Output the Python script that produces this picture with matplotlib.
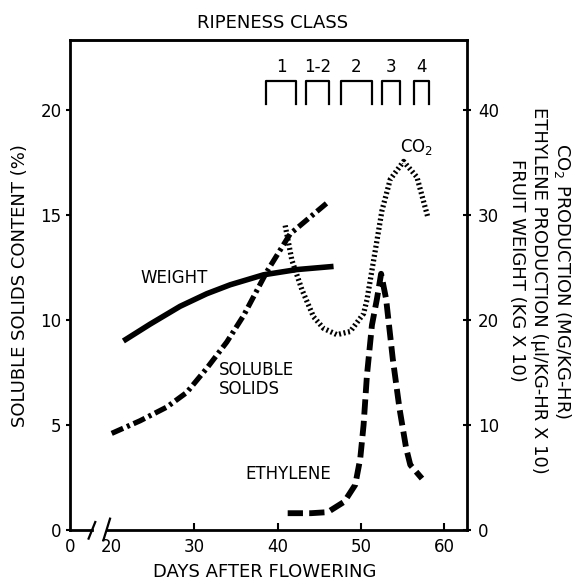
import numpy as np
import matplotlib
matplotlib.use("Agg")
import matplotlib.pyplot as plt

plt.rcParams['font.family'] = ['DejaVu Sans']
plt.rcParams['font.size'] = 12
plt.rcParams['lines.scale_dashes'] = False
plt.rcParams['mathtext.fontset'] = 'dejavusans'

# days after flowering / values
weight_days = [21.5, 24.7, 28.3, 31.5, 34.3, 38.3, 42.3, 46.7]
weight_vals = [18.0, 19.6, 21.3, 22.5, 23.35, 24.3, 24.8, 25.1]   # kg x 10 (right axis)

solids_days = [20.1, 23.5, 26.7, 29.1, 31.5, 33.9, 35.9, 38.7, 41.5, 43.9, 46.0]
solids_vals = [4.6, 5.2, 5.85, 6.55, 7.7, 8.95, 10.2, 12.3, 14.1, 14.9, 15.6]  # % (left axis)

co2_days = [40.9, 41.7, 42.9, 44.3, 45.5, 47.1, 48.7, 50.3, 50.7, 51.7, 52.5, 53.5, 55.1, 56.7, 58.0]
co2_vals = [29.0, 25.7, 22.9, 20.3, 19.2, 18.6, 18.9, 20.6, 21.9, 26.6, 30.4, 33.4, 35.1, 33.6, 29.8]

eth_days = [41.2, 44.0, 46.0, 48.0, 49.3, 49.9, 50.3, 50.7, 51.3, 51.9, 52.4,
            53.0, 53.8, 54.6, 55.4, 55.9, 57.3]
eth_vals = [1.6, 1.6, 1.7, 2.7, 4.3, 6.8, 10.0, 14.7, 19.5, 22.0, 24.4,
            22.0, 16.3, 11.6, 7.8, 6.2, 4.9]

ripe_labels = ["1", "1-2", "2", "3", "4"]
ripe_start = [38.6, 43.4, 47.6, 52.5, 56.4]
ripe_end = [42.2, 46.1, 51.3, 54.7, 58.2]

x_ticks = [15.1, 20, 30, 40, 50, 60]
x_ticklabels = ["0", "20", "30", "40", "50", "60"]
left_ticks = [0, 5, 10, 15, 20]
right_ticks = [0, 10, 20, 30, 40]

fig = plt.figure(figsize=(5.74, 5.84), dpi=100, facecolor="w")
ax = fig.add_axes([70/574, 1-530/584, 397/574, 490/584])
ax2 = ax.twinx()

xmin, xmax = 15.1, 62.7
ymax = 23.33
ax.set_xlim(xmin, xmax)
ax.set_ylim(0, ymax)
ax2.set_ylim(0, 2*ymax)

k = 'k'
ax.plot(solids_days, solids_vals, color=k, lw=3.8, dashes=(9, 3, 2.2, 3),
        solid_capstyle='butt', dash_capstyle='butt')
ax2.plot(weight_days, weight_vals, color=k, lw=4.0, solid_capstyle='butt')
ax2.plot(co2_days, co2_vals, color=k, lw=3.8, dashes=(1.4, 1.9),
         dash_capstyle='butt')
ax2.plot(eth_days, eth_vals, color=k, lw=4.2, dashes=(11, 4.5),
         dash_capstyle='butt')

# ripeness class brackets
for lab, s, e in zip(ripe_labels, ripe_start, ripe_end):
    ax.plot([s, s, e, e], [20.3, 21.4, 21.4, 20.3], color=k, lw=1.6)
    ax.text((s+e)/2.0, 22.05, lab, ha="center", va="center", fontsize=12)

# curve labels
ax.text(27.6, 12.0, "WEIGHT", ha="center", va="center")
ax.text(32.9, 7.15, "SOLUBLE\nSOLIDS", ha="left", va="center", linespacing=1.05)
ax.text(36.1, 2.68, "ETHYLENE", ha="left", va="center")
ax.text(56.6, 18.25, "CO$_2$", ha="center", va="center")

# spines
for a in (ax, ax2):
    a.spines['bottom'].set_visible(False)
    a.spines['top'].set_linewidth(1.8)
ax.spines['left'].set_linewidth(2.0)
ax2.spines['right'].set_linewidth(2.0)
ax.spines['right'].set_visible(False)
ax2.spines['left'].set_visible(False)

# broken bottom axis
ax.plot([xmin, 17.7], [0, 0], color=k, lw=2.0, clip_on=False)
ax.plot([19.5, xmax], [0, 0], color=k, lw=2.0, clip_on=False)
ax.plot([17.33, 18.13], [-0.41, 0.38], color=k, lw=1.6, clip_on=False)
ax.plot([19.1, 19.9], [-0.49, 0.54], color=k, lw=1.6, clip_on=False)

ax.set_xticks(x_ticks)
ax.set_xticklabels(x_ticklabels)
ax.tick_params(axis='x', direction='in', length=5, width=1.5, pad=6)
for t in ax.xaxis.get_major_ticks()[:2]:
    t.tick1line.set_visible(False)
ax.set_yticks(left_ticks)
ax.tick_params(axis='y', direction='out', length=3, width=1.5, pad=3)
ax2.set_yticks(right_ticks)
ax2.tick_params(axis='y', direction='inout', length=6, width=1.5, pad=5)

fig.text(273/574, 1-23/584, "RIPENESS CLASS", ha="center", va="center", fontsize=13)
fig.text(265/574, 1-572/584, "DAYS AFTER FLOWERING", ha="center", va="center", fontsize=13)
fig.text(20/574, 1-286/584, "SOLUBLE SOLIDS CONTENT (%)", rotation=90,
         ha="center", va="center", fontsize=13)
fig.text(563/574, 1-281/584, "CO$_2$ PRODUCTION (MG/KG-HR)", rotation=270,
         ha="center", va="center", fontsize=13)
fig.text(539/574, 1-290/584, "ETHYLENE PRODUCTION (µl/KG-HR X 10)", rotation=270,
         ha="center", va="center", fontsize=13)
fig.text(517/574, 1-270/584, "FRUIT WEIGHT (KG X 10)", rotation=270,
         ha="center", va="center", fontsize=13)

plt.savefig("out.png", dpi=100)
